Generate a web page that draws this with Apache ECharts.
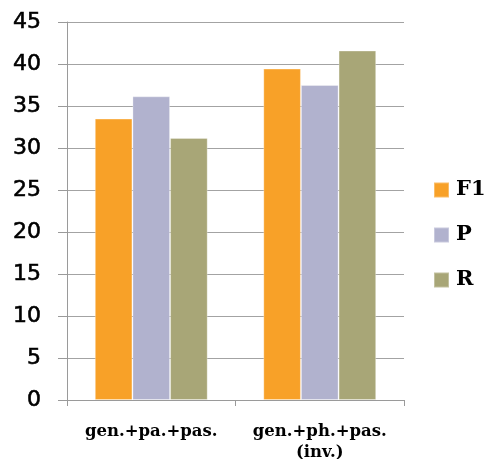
<!DOCTYPE html>
<html><head><meta charset="utf-8">
<script src="https://cdn.jsdelivr.net/npm/echarts@6/dist/echarts.min.js"></script>
<style>html,body{margin:0;padding:0;background:#fff}#c{width:487px;height:459px}</style>
</head><body><div id="c"></div>
<script>
const categories = ['gen.+pa.+pas.', 'gen.+ph.+pas.\n(inv.)'];
const f1Values = [33.5, 39.45];
const pValues = [36.15, 37.5];
const rValues = [31.2, 41.6];
const seriesNames = ['F1', 'P', 'R'];
const colors = ['#F8A128', '#B1B2CE', '#A8A677'];
const yTicks = {min: 0, max: 45, interval: 5};

const chart = echarts.init(document.getElementById('c'), null, {renderer: 'canvas'});
const barStyle = c => ({color: c, borderColor: 'rgba(255,255,255,0.3)', borderWidth: 1});
chart.setOption({
  animation: false,
  backgroundColor: '#fff',
  color: colors,
  grid: {left: 67, right: 83, top: 22, bottom: 59, containLabel: false, outerBoundsMode: 'none'},
  legend: {
    orient: 'vertical', left: 433, top: 179, padding: 0,
    itemWidth: 15, itemHeight: 15, itemGap: 23,
    icon: 'rect',
    textStyle: {fontFamily: 'DejaVu Serif', fontWeight: 'bold', fontSize: 21, lineHeight: 22, color: '#000', padding: [0,0,0,2]},
    data: seriesNames
  },
  xAxis: {
    type: 'category', data: categories,
    axisLine: {lineStyle: {color: '#9a9a9a', width: 1}},
    axisTick: {show: true, length: 6, lineStyle: {color: '#9a9a9a'}},
    axisLabel: {interval: 0, hideOverlap: false, fontFamily: 'DejaVu Serif', fontWeight: 'bold', fontSize: 16.5, color: '#000', margin: 21, lineHeight: 21}
  },
  yAxis: {
    type: 'value', min: yTicks.min, max: yTicks.max, interval: yTicks.interval,
    axisLine: {show: true, lineStyle: {color: '#9a9a9a', width: 1}},
    axisTick: {show: true, length: 9, lineStyle: {color: '#9a9a9a'}},
    splitLine: {lineStyle: {color: '#a3a3a3', width: 1}},
    axisLabel: {fontFamily: 'DejaVu Sans', fontSize: 22, color: '#000', margin: 26, textBorderColor: '#000', textBorderWidth: 0.6}
  },
  series: [
    {name: 'F1', type: 'bar', data: f1Values, barGap: '0%', barCategoryGap: '33%', itemStyle: barStyle(colors[0])},
    {name: 'P', type: 'bar', data: pValues, itemStyle: barStyle(colors[1])},
    {name: 'R', type: 'bar', data: rValues, itemStyle: barStyle(colors[2])}
  ]
});
</script></body></html>
